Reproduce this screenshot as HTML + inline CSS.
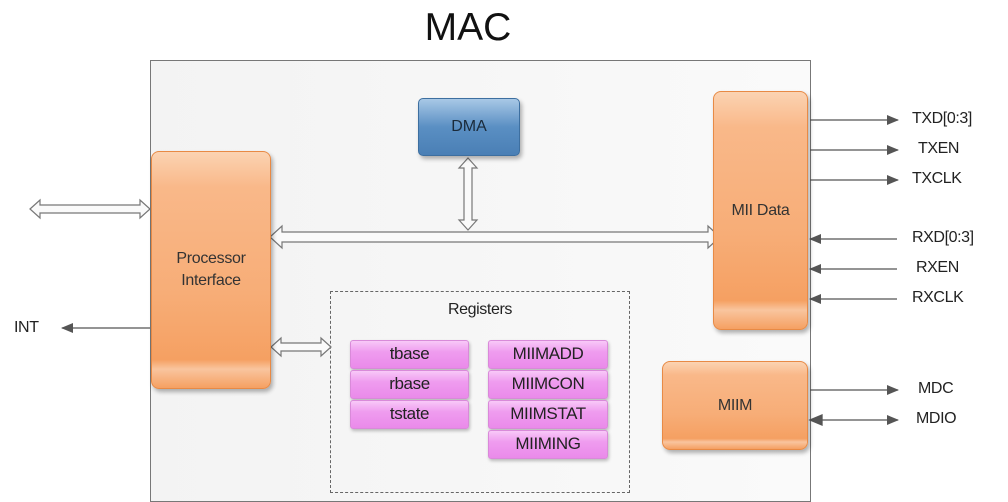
<!DOCTYPE html>
<html><head><style>
body{margin:0;width:1008px;height:483px;overflow:hidden;background:#fff;font-family:"Liberation Sans",sans-serif;position:relative}
.a{position:absolute}
.or{position:absolute;border-radius:8px;background:linear-gradient(180deg,#fbd3b2 0%,#f9b889 15%,#f7ad77 60%,#f5a062 88%,#f9c59e 92%,#f5a062 100%);box-shadow:2px 3px 4px rgba(0,0,0,.3);border:1px solid #e88a45;display:flex;align-items:center;justify-content:center;text-align:center;font-size:16px;color:#333;box-sizing:border-box;letter-spacing:-0.3px}
.pk{position:absolute;background:linear-gradient(180deg,#f8c9f8 0%,#ef9cef 40%,#ea8aea 100%);border:1px solid #d98ad9;box-sizing:border-box;border-radius:3px;text-align:center;font-size:17px;color:#222;line-height:26px;box-shadow:1px 2px 3px rgba(0,0,0,.25);letter-spacing:-0.4px}
.lb{position:absolute;font-size:16px;color:#222;letter-spacing:-0.4px}
</style></head><body>
<div class="a" style="left:0;width:936px;top:6px;text-align:center;font-size:39px;color:#111">MAC</div>
<div class="a" style="left:150px;top:60px;width:659px;height:440px;border:1px solid #777;background:linear-gradient(90deg,#f3f3f3,#fafafa)"></div>
<div class="a" style="left:330px;top:291px;width:298px;height:200px;border:1px dashed #666"></div>
<div class="lb" style="left:330px;width:300px;text-align:center;top:301px">Registers</div>
<svg class="a" style="left:0;top:0" width="1008" height="483">
<defs><marker id="ah" markerWidth="12" markerHeight="10" refX="11" refY="5" orient="auto" markerUnits="userSpaceOnUse"><path d="M0,0L12,5L0,10z" fill="#555"/></marker></defs>
<g fill="#fafafa" stroke="#777" stroke-width="1.2">
<path d="M30,209 l10,-9 v5 h100 v-5 l10,9 l-10,9 v-5 h-100 v5z"/>
<path d="M270,237 l12,-11 v6 h426 v-6 l12,11 l-12,11 v-6 h-426 v6z"/>
<path d="M468,158 l9,10 h-5 v52 h5 l-9,10 l-9,-10 h5 v-52 h-5z"/>
<path d="M271,347 l10,-9 v5 h40 v-5 l10,9 l-10,9 v-5 h-40 v5z"/>
</g>
<g stroke="#555" stroke-width="1.3">
<line x1="150" y1="328" x2="62" y2="328" marker-end="url(#ah)"/>
<line x1="810" y1="120" x2="898" y2="120" marker-end="url(#ah)"/>
<line x1="810" y1="150" x2="898" y2="150" marker-end="url(#ah)"/>
<line x1="810" y1="180" x2="898" y2="180" marker-end="url(#ah)"/>
<line x1="897" y1="239" x2="810" y2="239" marker-end="url(#ah)"/>
<line x1="897" y1="269" x2="810" y2="269" marker-end="url(#ah)"/>
<line x1="897" y1="299" x2="810" y2="299" marker-end="url(#ah)"/>
<line x1="810" y1="390" x2="898" y2="390" marker-end="url(#ah)"/>
<line x1="820" y1="420" x2="898" y2="420" marker-end="url(#ah)"/>
<path d="M810,420 l12,-5 v10z" fill="#555"/>
</g>
</svg>
<div class="or" style="left:151px;top:151px;width:120px;height:238px;line-height:22px">Processor<br>Interface</div>
<div class="or" style="left:713px;top:91px;width:95px;height:239px">MII Data</div>
<div class="or" style="left:662px;top:361px;width:146px;height:89px">MIIM</div>
<div class="a" style="left:418px;top:98px;width:102px;height:58px;border-radius:5px;background:linear-gradient(180deg,#a8c8e6,#5a8fc3 50%,#4a7fb5);border:1px solid #3d6fa0;box-sizing:border-box;box-shadow:2px 3px 4px rgba(0,0,0,.3);color:#1a2a3a;font-size:16px;display:flex;align-items:center;justify-content:center">DMA</div>
<div class="pk" style="left:350px;top:340px;width:119px;height:29px">tbase</div>
<div class="pk" style="left:350px;top:370px;width:119px;height:29px">rbase</div>
<div class="pk" style="left:350px;top:400px;width:119px;height:29px">tstate</div>
<div class="pk" style="left:488px;top:340px;width:120px;height:29px">MIIMADD</div>
<div class="pk" style="left:488px;top:370px;width:120px;height:29px">MIIMCON</div>
<div class="pk" style="left:488px;top:400px;width:120px;height:29px">MIIMSTAT</div>
<div class="pk" style="left:488px;top:430px;width:120px;height:29px">MIIMING</div>
<div class="lb" style="left:14px;top:319px">INT</div>
<div class="lb" style="left:912px;top:110px">TXD[0:3]</div>
<div class="lb" style="left:918px;top:140px">TXEN</div>
<div class="lb" style="left:912px;top:170px">TXCLK</div>
<div class="lb" style="left:912px;top:229px">RXD[0:3]</div>
<div class="lb" style="left:916px;top:259px">RXEN</div>
<div class="lb" style="left:912px;top:289px">RXCLK</div>
<div class="lb" style="left:918px;top:380px">MDC</div>
<div class="lb" style="left:916px;top:410px">MDIO</div>
</body></html>
